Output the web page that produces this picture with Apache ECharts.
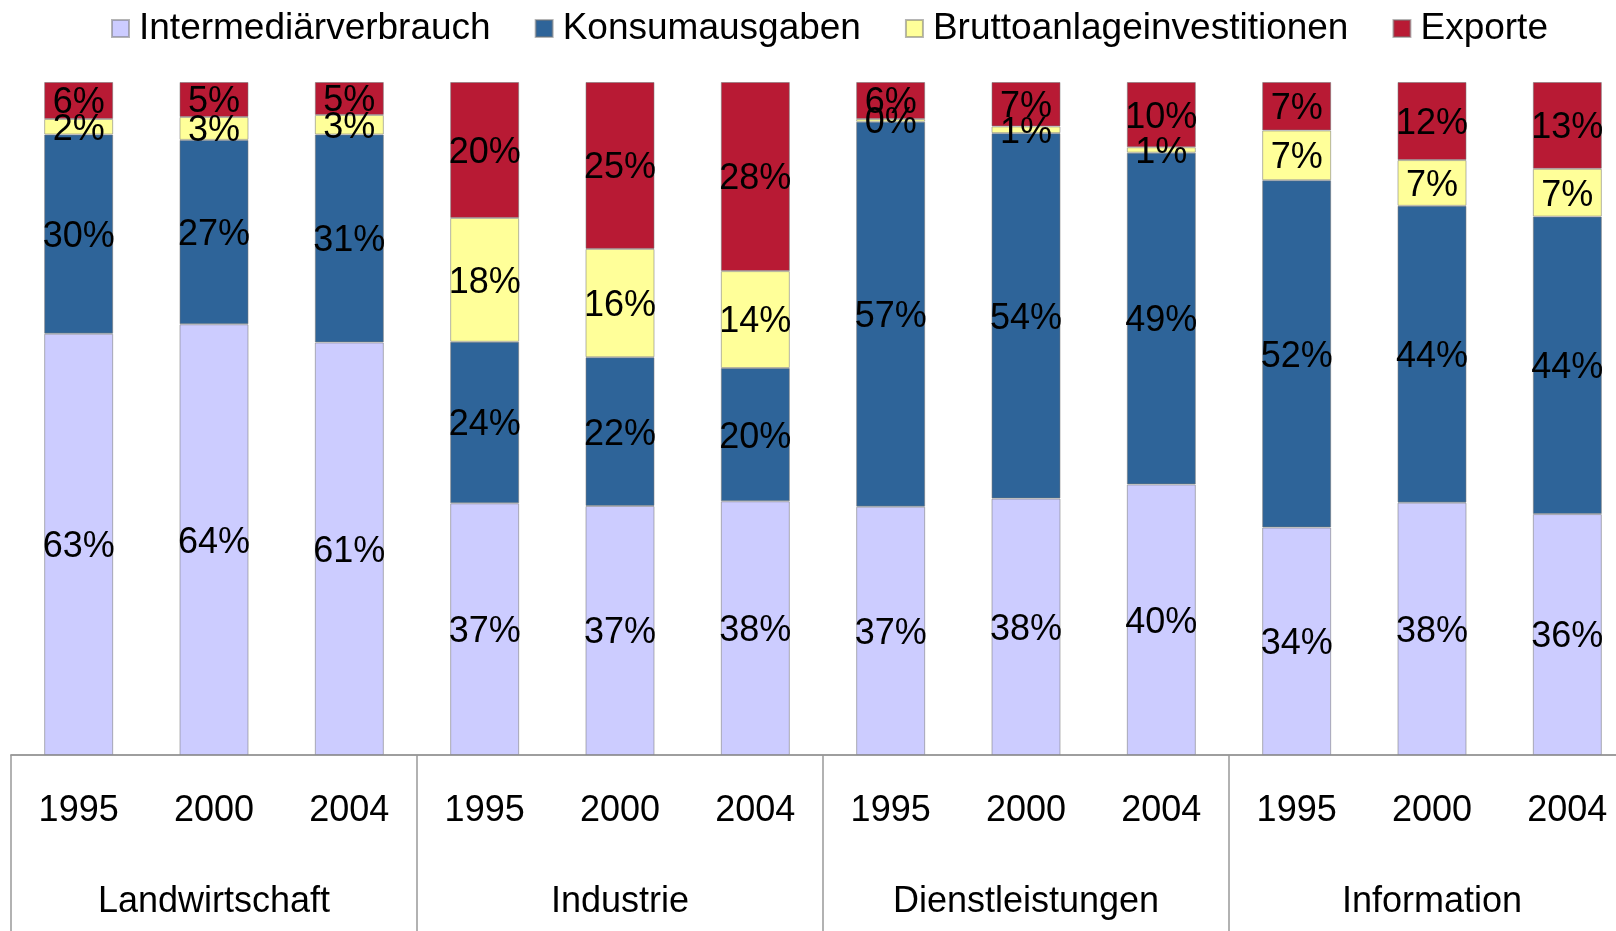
<!DOCTYPE html>
<html><head><meta charset="utf-8">
<script src="https://cdn.jsdelivr.net/npm/echarts@6/dist/echarts.min.js"></script>
<style>html,body{margin:0;padding:0;background:#fff}#c{width:1616px;height:931px}</style>
</head><body><div id="c"></div>
<script>
const groups = ['Landwirtschaft','Industrie','Dienstleistungen','Information'];
const years = ['1995','2000','2004'];
const seriesNames = ['Intermediärverbrauch','Konsumausgaben','Bruttoanlageinvestitionen','Exporte'];
const intermediaer = [62.6, 64.0, 61.3, 37.4, 37.0, 37.7, 36.9, 38.1, 40.2, 33.8, 37.5, 35.8];
const konsum      = [29.6, 27.4, 30.9, 24.0, 22.1, 19.8, 57.2, 54.3, 49.3, 51.6, 44.1, 44.2];
const brutto      = [ 2.3,  3.4,  2.9, 18.4, 16.1, 14.4,  0.4,  1.0,  0.8,  7.4,  6.8,  7.1];
const exporte     = [ 5.5,  5.2,  4.9, 20.2, 24.8, 28.1,  5.5,  6.6,  9.7,  7.2, 11.6, 12.9];
const colors = ['#CCCCFF','#2E6499','#FFFF99','#B81A34'];

const cats = [];
groups.forEach(() => years.forEach(y => cats.push(y)));
const FONT = '"Liberation Sans", Arial, sans-serif';
const allData = [intermediaer, konsum, brutto, exporte];

const chart = echarts.init(document.getElementById('c'), null, {renderer:'canvas'});
chart.setOption({
  animation: false,
  textStyle: {fontFamily: FONT},
  legend: {
    left: 106, top: 5, itemWidth: 17, itemHeight: 17, itemGap: 44,
    icon: 'rect',
    textStyle: {fontSize: 37, color: '#000', fontFamily: FONT, padding: [0,0,0,5]},
    data: seriesNames
  },
  grid: {left: 11, right: -19, top: 82, bottom: 176, containLabel: false, outerBoundsMode: 'none'},
  xAxis: [
    {
      type: 'category', data: cats, position: 'bottom',
      axisLine: {show: true, lineStyle: {color: '#999', width: 1.5}},
      axisTick: {show: false},
      axisLabel: {fontSize: 36, color: '#000', margin: 38, fontFamily: FONT, interval: 0}
    },
    {
      type: 'category', data: groups, position: 'bottom',
      axisLine: {show: true, lineStyle: {color: '#999', width: 1.5}},
      axisTick: {show: true, length: 180, interval: 0, lineStyle: {color: '#999', width: 1.5}},
      axisLabel: {fontSize: 36, color: '#000', margin: 129, fontFamily: FONT, interval: 0}
    }
  ],
  yAxis: {type: 'value', min: 0, max: 100, show: false},
  series: allData.map((d, i) => ({
    name: seriesNames[i], type: 'bar', stack: 'total', xAxisIndex: 0,
    data: d, barWidth: 69,
    itemStyle: {color: colors[i], borderColor: 'rgba(120,120,120,0.55)', borderWidth: 1},
    label: {
      show: true, position: 'inside', offset: [0, 3], fontSize: 36, color: '#000', fontFamily: FONT,
      formatter: p => Math.round(p.value) + '%'
    }
  }))
});
</script></body></html>
